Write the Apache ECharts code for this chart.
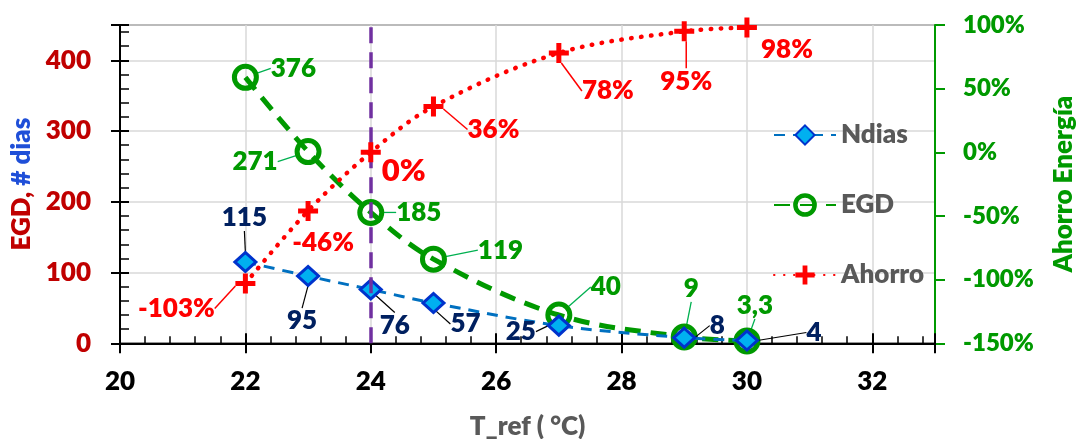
<!DOCTYPE html>
<html><head><meta charset="utf-8">
<script src="https://cdn.jsdelivr.net/npm/echarts@6/dist/echarts.min.js"></script>
<style>html,body{margin:0;padding:0;background:#fff}#c{width:1079px;height:439px}</style>
</head><body><div id="c"></div>
<script>
// ---- data ----
const tRef   = [22, 23, 24, 25, 27, 29, 30];
const ndias  = [115, 95, 76, 57, 25, 8, 4];
const egd    = [376, 271, 185, 119, 40, 9, 3.3];
const ahorro = [-103, -46, 0, 36, 78, 95, 98];   // %
const seriesNames = ['Ndias', 'EGD', 'Ahorro'];

// ---- label layout (offsets from marker, px) ----
const ndOff = [[-1,-44],[-6,45],[24,36],[32,21],[-38,6],[33,-12],[67,-8]];
const egOff = [[48,-9],[-53,10],[48,0],[67,-9],[47,-28],[7,-48],[8,-35]];
const ahOff = [[-69,25],[15,32],[33,19],[60,23],[49,38],[2,50],[40,22]];
const ndLead = [1,1,1,1,1,1,1];
const egLead = [1,1,1,1,1,1,1];
const ahLead = [1,0,0,1,1,1,0];

const FF = 'Lato, "Open Sans", sans-serif';
const FW = 800;
const plusPath = 'path://M3,0H5V3H8V5H5V8H3V5H0V3H3Z';

function mk(ys, lead, extra) {
  return tRef.map((x, i) => {
    const d = { value: [x, ys[i]] };
    if (!lead[i]) d.labelLine = { show: false };
    if (extra && extra[i]) Object.assign(d, extra[i]);
    return d;
  });
}

const chart = echarts.init(document.getElementById('c'), null, {renderer: 'canvas'});
const tickCol = '#000';
chart.setOption({
  animation: false,
  textStyle: { fontFamily: FF },
  grid: { left: 120, right: 144, top: 25, bottom: 95.7, show: true, borderColor: '#303030', borderWidth: 1.5,
    containLabel: false, outerBoundsMode: 'none' },
  legend: {
    data: [
      { name: seriesNames[0] },
      { name: seriesNames[1], itemStyle: { borderWidth: 4.5 } },
      { name: seriesNames[2] }
    ],
    orient: 'vertical', left: 768, top: 117,
    itemWidth: 62, itemHeight: 24, itemGap: 44,
    textStyle: { color: '#595959', fontSize: 26, fontWeight: FW, fontFamily: FF }
  },
  xAxis: [{
    type: 'value', min: 20, max: 33, interval: 2,
    axisLine: { show: true, onZero: false, lineStyle: { color: tickCol, width: 2 } },
    axisTick: { show: true, length: 10, lineStyle: { color: tickCol, width: 2 } },
    axisLabel: { color: '#000', fontSize: 26, fontWeight: FW, fontFamily: FF, margin: 25,
      formatter: v => (v === 33 ? '' : v) },
    splitLine: { show: true, lineStyle: { color: '#D9D9D9', width: 1.5 } },
    name: 'T_ref ( °C)', nameLocation: 'middle', nameGap: 70,
    nameTextStyle: { color: '#595959', fontSize: 26, fontWeight: FW, fontFamily: FF }
  }, {
    type: 'value', min: 20, max: 33, interval: 2, position: 'bottom',
    axisLine: { show: false, onZero: false }, axisLabel: { show: false }, splitLine: { show: false },
    axisTick: { show: true, inside: true, length: 10, lineStyle: { color: tickCol, width: 2 } },
    minorTick: { show: true, splitNumber: 5, length: 7, lineStyle: { color: tickCol, width: 1.5 } }
  }],
  yAxis: [{
    type: 'value', position: 'left', min: 0, max: 450, interval: 100,
    axisLine: { show: true, onZero: false, lineStyle: { color: tickCol, width: 2 } },
    axisTick: { show: true, length: 9, lineStyle: { color: tickCol, width: 2 } },
    axisLabel: { color: '#C00000', fontSize: 26, fontWeight: FW, fontFamily: FF, margin: 29,
      formatter: v => (v === 450 ? '' : v) },
    splitLine: { show: true, lineStyle: { color: '#D9D9D9', width: 1.5 } },
    name: '{a|EGD,} {b|# dias}', nameLocation: 'middle', nameRotate: 90, nameGap: 82,
    nameTextStyle: { fontSize: 26, fontWeight: FW, fontFamily: FF,
      rich: { a: { color: '#C00000', fontSize: 26, fontWeight: FW, fontFamily: FF },
              b: { color: '#1F4FD8', fontSize: 26, fontWeight: FW, fontFamily: FF } } }
  }, {
    type: 'value', position: 'right', min: -150, max: 100, interval: 50,
    axisLine: { show: true, onZero: false, lineStyle: { color: '#009900', width: 2 } },
    axisTick: { show: true, length: 10, lineStyle: { color: '#009900', width: 2 } },
    axisLabel: { color: '#009900', fontSize: 24, fontWeight: FW, fontFamily: FF, margin: 28,
      formatter: '{value}%' },
    splitLine: { show: false },
    name: 'Ahorro Energía', nameLocation: 'middle', nameRotate: 90, nameGap: 116,
    nameTextStyle: { color: '#009900', fontSize: 26, fontWeight: FW, fontFamily: FF }
  }, {
    type: 'value', position: 'left', min: 0, max: 450, interval: 100,
    axisLine: { show: false, onZero: false }, axisLabel: { show: false }, splitLine: { show: false },
    axisTick: { show: true, inside: true, length: 9, lineStyle: { color: tickCol, width: 2 } },
    minorTick: { show: true, splitNumber: 5, length: 9, lineStyle: { color: tickCol, width: 1.5 } }
  }],
  series: [{
    name: 'EGD', type: 'line', yAxisIndex: 0, smooth: 0.35,
    data: mk(egd, egLead),
    symbol: 'circle', symbolSize: 22,
    itemStyle: { color: 'rgba(255,255,255,0)', borderColor: '#009900', borderWidth: 5 },
    lineStyle: { color: '#009900', width: 5, type: [16, 10] },
    label: { show: true, position: 'inside', color: '#009900', fontSize: 26, fontWeight: FW, fontFamily: FF,
      formatter: p => String(p.value[1]).replace('.', ',') },
    labelLine: { show: true, lineStyle: { color: '#00B050', width: 1.3 } },
    labelLayout: p => ({ dx: egOff[p.dataIndex][0], dy: egOff[p.dataIndex][1] }),
    z: 3
  }, {
    name: 'Ndias', type: 'line', yAxisIndex: 0, smooth: 0.35,
    data: mk(ndias, ndLead),
    symbol: 'diamond', symbolSize: [21, 19],
    itemStyle: { color: '#00B0F0', borderColor: '#0033CC', borderWidth: 3 },
    lineStyle: { color: '#0070C0', width: 3, type: [11, 8] },
    label: { show: true, position: 'inside', color: '#002060', fontSize: 26, fontWeight: FW, fontFamily: FF,
      formatter: p => p.value[1] },
    labelLine: { show: true, lineStyle: { color: '#000', width: 1.2 } },
    labelLayout: p => ({ dx: ndOff[p.dataIndex][0], dy: ndOff[p.dataIndex][1] }),
    markLine: { silent: true, symbol: 'none', label: { show: false },
      lineStyle: { color: '#7030A0', width: 3.5, type: [16, 9] }, data: [{ xAxis: 24 }] },
    z: 4
  }, {
    name: 'Ahorro', type: 'line', yAxisIndex: 1, smooth: 0.35,
    data: mk(ahorro, ahLead, [null, null, { label: { fontSize: 31 } }]),
    symbol: plusPath, symbolSize: 20,
    itemStyle: { color: '#FF0000' },
    lineStyle: { color: '#FF0000', width: 4.5, type: [0.5, 9.5], cap: 'round' },
    label: { show: true, position: 'inside', color: '#FF0000', fontSize: 26, fontWeight: FW, fontFamily: FF,
      formatter: p => p.value[1] + '%' },
    labelLine: { show: true, lineStyle: { color: '#FF0000', width: 1.5 } },
    labelLayout: p => ({ dx: ahOff[p.dataIndex][0], dy: ahOff[p.dataIndex][1] }),
    z: 5
  }]
});
</script></body></html>
